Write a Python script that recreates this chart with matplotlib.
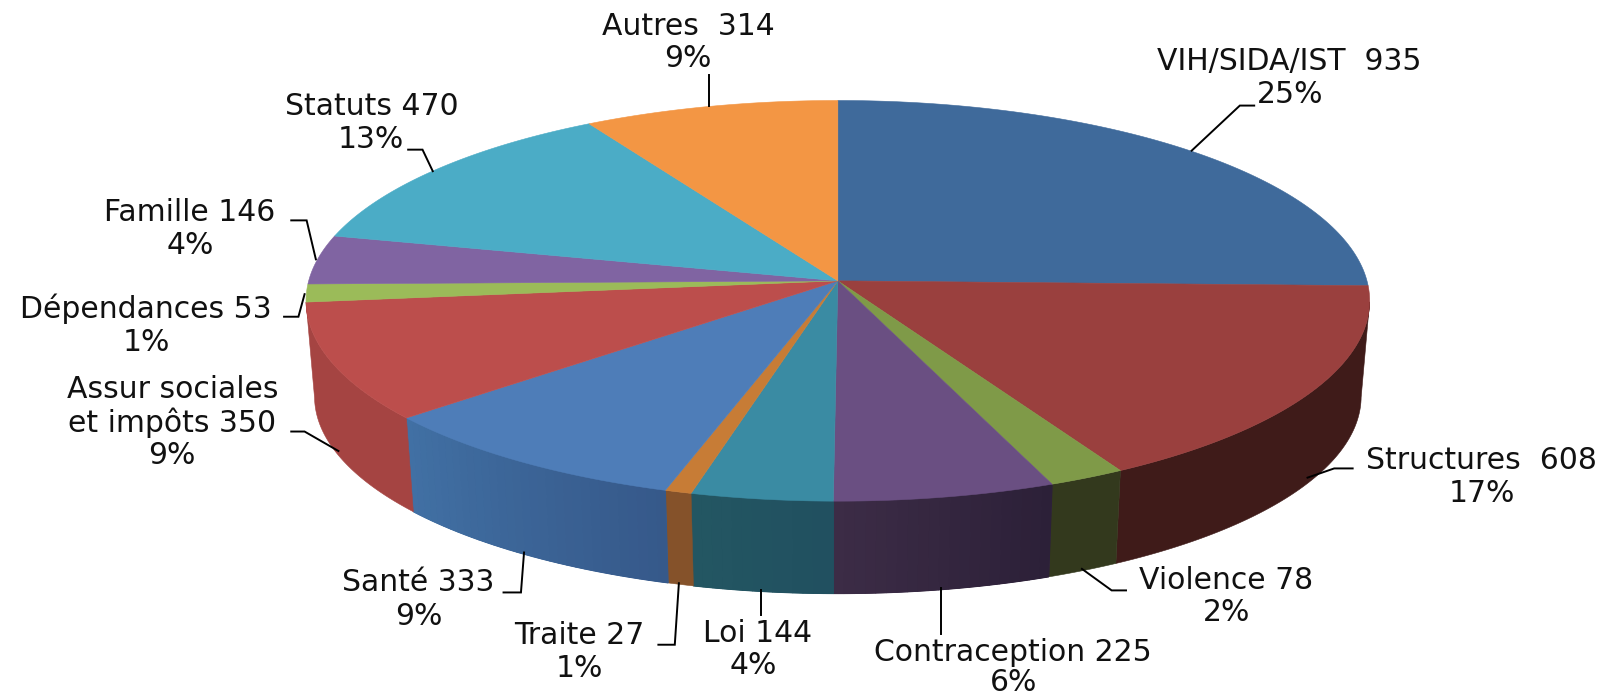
import numpy as np
import matplotlib
matplotlib.use('Agg')
import matplotlib.pyplot as plt
from matplotlib.colors import to_rgb

# Data
names = ['VIH/SIDA/IST  ', 'Structures  ', 'Violence ', 'Contraception ', 'Loi ', 'Traite ',
         'Santé ', 'et impôts ', 'Dépendances ', 'Famille ', 'Statuts ', 'Autres  ']
values = [935, 608, 78, 225, 144, 27, 333, 350, 53, 146, 470, 314]
percents = [25, 17, 2, 6, 4, 1, 9, 9, 1, 4, 13, 9]

top_colors = ['#3F6A9B', '#9A403E', '#7F9A48', '#6A4F82', '#3A8BA3', '#C77C36',
              '#4E7DB8', '#BC4E4C', '#9BBB59', '#8064A2', '#4BACC6', '#F39644']
wall_start = ['#3F6A9B', '#3F1B19', '#33391D', '#2C2038', '#215060', '#85522A',
              '#36598A', '#A54442', '#9BBB59', '#8064A2', '#4BACC6', '#F39644']
wall_end = ['#3F6A9B', '#3F1B19', '#33391D', '#3C2C46', '#235662', '#85522A',
            '#4170A4', '#A54442', '#9BBB59', '#8064A2', '#4BACC6', '#F39644']

# label centres: name line, percent line
name_pos = [(1257, 60), (1445, 449), (1196, 566), (988, 637), (739, 618), (565, 620),
            (408, 568), (168, 412), (142, 301), (185, 207), (363, 104), (671, 26)]
pct_pos = [(1258, 92), (1445, 481), (1196, 598), (988, 666), (735, 649), (565, 652),
           (408, 601), (168, 444), (143, 334), (186, 240), (362, 136), (671, 57)]

leaders = [[(1162, 147), (1209, 103), (1223, 103)],
           [(1275, 466), (1301, 457), (1319, 457)],
           [(1055, 555), (1084, 576), (1098, 576)],
           [(918, 574), (918, 619)],
           [(742, 576), (742, 600)],
           [(662, 569), (658, 629), (642, 629)],
           [(511, 539), (508, 578), (491, 578)],
           [(330, 440), (297, 421), (284, 421)],
           [(297, 287), (291, 309), (277, 309)],
           [(308, 253), (299, 215), (284, 215)],
           [(422, 167), (412, 146), (398, 146)],
           [(691, 103), (691, 73)]]

# Pie geometry (perspective disk), in units of the 1568x680 view
cx, cy = 817, 274
R, A, k = 516, 193.5, 0.0997
shrink, depth = 0.984, 93.6


def top_edge(theta):
    u, v = np.sin(theta), -np.cos(theta)
    w = 1 - k * v
    return cx + R * u / w, cy + A * v / w


def bottom_edge(theta):
    x, y = top_edge(theta)
    return cx + (x - cx) * shrink, cy + (y - cy) * shrink + depth


if __name__ == "__main__":

    fig = plt.figure(figsize=(16.08, 6.97), dpi=100)
    ax = fig.add_axes([0, 0, 1, 1])
    ax.set_xlim(0, 1568)
    ax.set_ylim(680, 0)
    ax.axis('off')

    edges = np.concatenate([[0], np.cumsum(values)]) / np.sum(values) * 2 * np.pi

    # Side wall, only the part turned to the viewer
    for i in range(len(values)):
        a0, a1 = max(edges[i], np.radians(96)), min(edges[i + 1], np.radians(263.9))
        if a1 <= a0:
            continue
        t = np.linspace(a0, a1, 80)
        xt, yt = top_edge(t)
        xb, yb = bottom_edge(t[::-1])
        c0, c1 = np.array(to_rgb(wall_start[i])), np.array(to_rgb(wall_end[i]))
        ax.fill(np.r_[xt, xb], np.r_[yt, yb], color=(c0 + c1) / 2, lw=0.4)
        if wall_start[i] == wall_end[i]:
            continue
        # gradient strips on top of the flat base
        n = max(int(np.degrees(a1 - a0)), 1)
        steps = np.linspace(a0, a1, n + 1)
        for j in range(n):
            t = np.linspace(steps[j], steps[j + 1], 3)
            xt, yt = top_edge(t)
            xb, yb = bottom_edge(t[::-1])
            ax.fill(np.r_[xt, xb], np.r_[yt, yb], color=c0 + (c1 - c0) * j / max(n - 1, 1), lw=0.8)

    # Top surface
    for i in range(len(values)):
        t = np.linspace(edges[i], edges[i + 1], 100)
        x, y = top_edge(t)
        ax.fill(np.r_[cx, x], np.r_[cy, y], color=top_colors[i], lw=0.4)

    # Leader lines
    for pts in leaders:
        xs, ys = zip(*pts)
        ax.plot(xs, ys, color='black', lw=1.4, solid_joinstyle='miter')

    # Labels
    font = dict(fontsize=21.5, family='DejaVu Sans', color='#111111', ha='center', va='center')
    for i in range(len(values)):
        ax.text(*name_pos[i], f'{names[i]}{values[i]}', **font)
        ax.text(*pct_pos[i], f'{percents[i]}%', **font)
    ax.text(168, 380, 'Assur sociales', **font)

    fig.savefig('out.png', dpi=100)
